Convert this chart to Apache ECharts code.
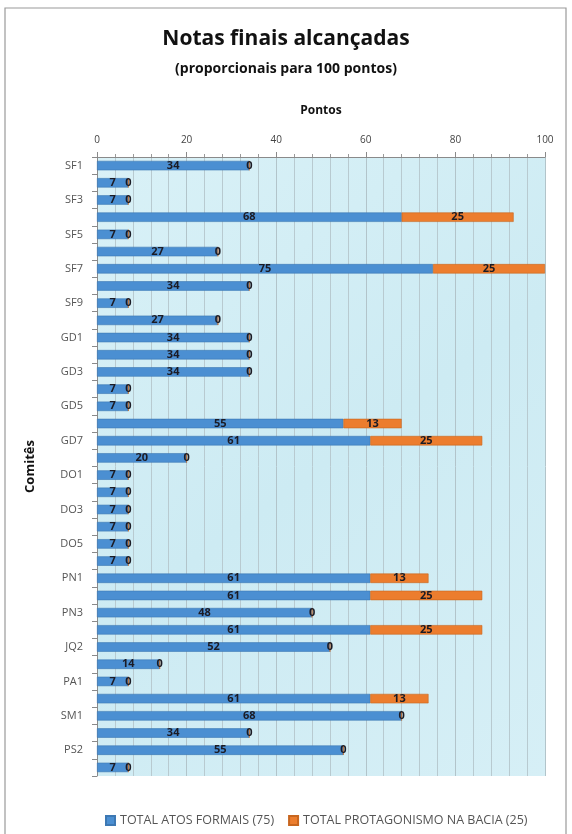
<!DOCTYPE html>
<html>
<head>
<meta charset="utf-8">
<script src="https://cdn.jsdelivr.net/npm/echarts@6/dist/echarts.min.js"></script>
<style>
html,body{margin:0;padding:0;background:#fff;}
#c{width:572px;height:834px;}
</style>
</head>
<body>
<div id="c"></div>
<script>
const categories = ['SF1','SF2','SF3','SF4','SF5','SF6','SF7','SF8','SF9','SF10',
  'GD1','GD2','GD3','GD4','GD5','GD6','GD7','GD8',
  'DO1','DO2','DO3','DO4','DO5','DO6',
  'PN1','PN2','PN3','JQ1','JQ2','JQ3','PA1','MU1','SM1','PS1','PS2','PS3'];
const atosFormais = [34,7,7,68,7,27,75,34,7,27,
  34,34,34,7,7,55,61,20,
  7,7,7,7,7,7,
  61,61,48,61,52,14,7,61,68,34,55,7];
const protagonismo = [0,0,0,25,0,0,25,0,0,0,
  0,0,0,0,0,13,25,0,
  0,0,0,0,0,0,
  13,25,0,25,0,0,0,13,0,0,0,0];
const xTicks = [0,20,40,60,80,100];
const seriesNames = ['TOTAL ATOS FORMAIS (75)','TOTAL PROTAGONISMO NA BACIA (25)'];

const chart = echarts.init(document.getElementById('c'));
const FONT = 'Open Sans';
const labelStyle = {show:true, position:'inside', color:'#1b1b24', fontSize:11, fontWeight:'bold', fontFamily:FONT};
chart.setOption({
  backgroundColor:'#fff',
  textStyle:{fontFamily:FONT},
  title:{
    text:'Notas finais alcançadas',
    subtext:'(proporcionais para 100 pontos)',
    left:'center', top:24, itemGap:12,
    textStyle:{fontSize:21,fontWeight:'bold',color:'#111',fontFamily:FONT},
    subtextStyle:{fontSize:14,fontWeight:'bold',color:'#111',fontFamily:FONT}
  },
  graphic:[{type:'rect',shape:{x:5,y:8,width:561,height:840},style:{fill:'none',stroke:'#9a9a9a',lineWidth:1.2},silent:true}],
  legend:{
    data:seriesNames, bottom:2, left:100, itemWidth:9, itemHeight:9, itemGap:14,
    icon:'rect',
    textStyle:{fontSize:12.5,color:'#555',fontFamily:FONT}
  },
  grid:{left:97,right:27,top:157,bottom:58,show:true,borderWidth:0,
    backgroundColor:new echarts.graphic.LinearGradient(0,0,1,1,[
      {offset:0,color:'#d9f1f7'},{offset:0.5,color:'#cdebf3'},{offset:1,color:'#d6eff6'}])},
  xAxis:{
    type:'value', position:'top', min:0, max:100, interval:20,
    name:'Pontos', nameLocation:'middle', nameGap:40, nameMoveOverlap:false,
    nameTextStyle:{fontSize:12,fontWeight:'bold',color:'#111',fontFamily:FONT},
    axisLine:{show:true,lineStyle:{color:'#8a8a8a'}},
    axisTick:{show:true,length:5,lineStyle:{color:'#8a8a8a'}},
    minorTick:{show:true,splitNumber:5,length:3,lineStyle:{color:'#9a9a9a'}},
    axisLabel:{fontSize:10,color:'#444',margin:12,fontFamily:FONT,
      formatter:v=>xTicks.includes(v)?String(v):''},
    splitLine:{show:true,lineStyle:{color:'#b2c4ca',width:1}},
    minorSplitLine:{show:true,lineStyle:{color:'#b8cad0',width:1}}
  },
  yAxis:{
    type:'category', data:categories, inverse:true,
    name:'Comitês', nameLocation:'middle', nameGap:60, nameRotate:90,
    nameTextStyle:{fontSize:13,fontWeight:'bold',color:'#111',fontFamily:FONT},
    axisLine:{show:true,lineStyle:{color:'#8a8a8a'}},
    axisTick:{show:true,interval:0,length:5,lineStyle:{color:'#8a8a8a'}},
    axisLabel:{interval:1,fontSize:11,color:'#555',margin:14,fontFamily:FONT},
    splitLine:{show:false}
  },
  series:[
    {name:seriesNames[0], type:'bar', stack:'t', data:atosFormais, barWidth:'55%',
      itemStyle:{color:'#4b8fd2',borderColor:'#3d78b3',borderWidth:0.6},
      label:labelStyle},
    {name:seriesNames[1], type:'bar', stack:'t', data:protagonismo, barWidth:'55%',
      itemStyle:{color:'#ec7d2e',borderColor:'#c8661f',borderWidth:0.6},
      label:labelStyle}
  ]
});
</script>
</body>
</html>
